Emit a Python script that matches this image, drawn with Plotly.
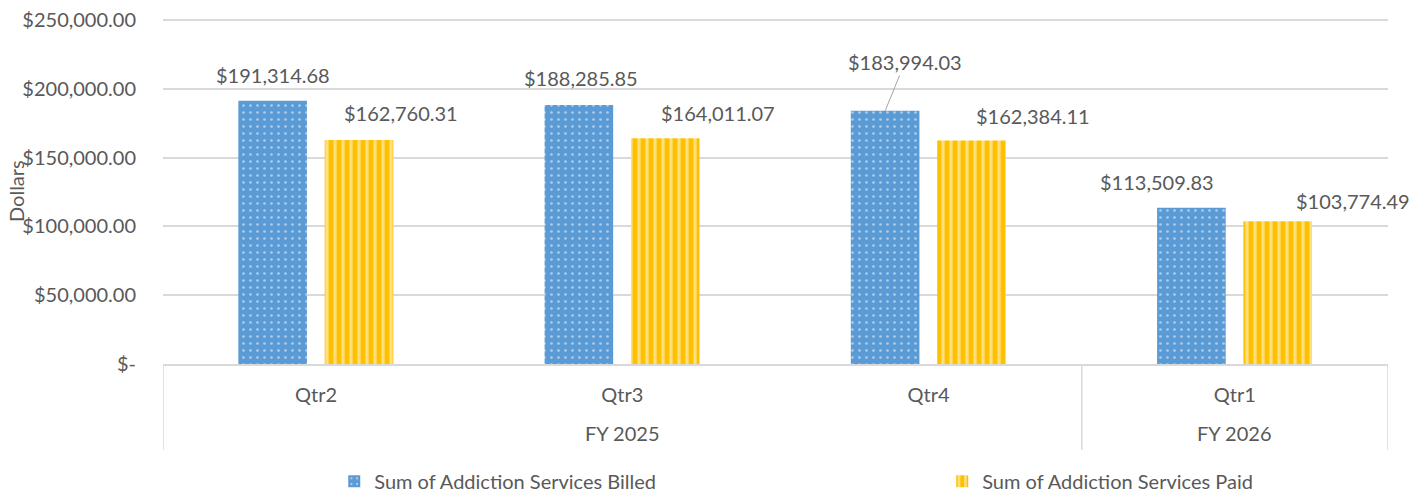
import plotly.graph_objects as go

# Data
fiscal_years = ["FY 2025", "FY 2025", "FY 2025", "FY 2026"]
quarters = ["Qtr2", "Qtr3", "Qtr4", "Qtr1"]
billed = [191314.68, 188285.85, 183994.03, 113509.83]
paid = [162760.31, 164011.07, 162384.11, 103774.49]
y_ticks = [0, 50000, 100000, 150000, 200000, 250000]

BLUE = "#5B9BD5"
GOLD = "#FFC000"
TEXT = "#595959"
GRID = "#D9D9D9"
FONT = "Lato, 'Open Sans', sans-serif"
FS = 20

# bar geometry in category units
BAR_W = 0.224
BLUE_OFF = -0.254
GOLD_OFF = 0.028

# label offsets (px) from the top centre of each bar
billed_shift = [(0, 26), (2, 27), None, (-34, 26)]
paid_shift = [(42, 27), (53, 25), (61, 25), (75, 20)]


def money(v):
    return "$-" if v == 0 else "${:,.2f}".format(v)


fig = go.Figure()
fig.add_trace(go.Bar(
    x=quarters, y=billed,
    name="Sum of Addiction Services Billed", legend="legend",
    width=BAR_W, offset=BLUE_OFF,
    marker=dict(color=BLUE, line=dict(width=0),
                pattern=dict(shape=".", fgcolor="white", bgcolor=BLUE,
                             size=7, solidity=0.12, fillmode="overlay")),
))
fig.add_trace(go.Bar(
    x=quarters, y=paid,
    name="Sum of Addiction Services Paid", legend="legend2",
    width=BAR_W, offset=GOLD_OFF,
    marker=dict(color=GOLD, line=dict(width=0),
                pattern=dict(shape="|", fgcolor="white", bgcolor=GOLD,
                             size=8, solidity=0.4, fillmode="overlay")),
))

label_font = dict(size=FS, color=TEXT, family=FONT)
annotations = []
for i, v in enumerate(billed):
    xc = i + BLUE_OFF + BAR_W / 2
    if billed_shift[i] is None:
        annotations.append(dict(
            x=xc, y=v, xref="x", yref="y", text=money(v),
            showarrow=True, arrowhead=0, arrowwidth=1, arrowcolor="#A6A6A6",
            ax=20, ay=-49, standoff=0, font=label_font))
    else:
        dx, dy = billed_shift[i]
        annotations.append(dict(
            x=xc, y=v, xref="x", yref="y", text=money(v), showarrow=False,
            xshift=dx, yshift=dy, yanchor="middle", font=label_font))
for i, v in enumerate(paid):
    xc = i + GOLD_OFF + BAR_W / 2
    dx, dy = paid_shift[i]
    annotations.append(dict(
        x=xc, y=v, xref="x", yref="y", text=money(v), showarrow=False,
        xshift=dx, yshift=dy, yanchor="middle", font=label_font))

# fiscal year group labels and the dividers between groups
shapes = []
groups = []
for i, fy in enumerate(fiscal_years):
    if groups and groups[-1][0] == fy:
        groups[-1][2] = i
    else:
        groups.append([fy, i, i])
for fy, start, end in groups:
    annotations.append(dict(
        x=(start + end) / 2, y=-0.199, xref="x", yref="paper", text=fy,
        showarrow=False, yanchor="middle", font=label_font))
    shapes.append(dict(type="line", xref="x", yref="paper",
                       x0=start - 0.5, x1=start - 0.5, y0=0, y1=-0.248,
                       line=dict(color=GRID, width=1.5)))
shapes.append(dict(type="line", xref="x", yref="paper",
                   x0=len(quarters) - 0.5, x1=len(quarters) - 0.5, y0=0, y1=-0.248,
                   line=dict(color=GRID, width=1.5)))

annotations.append(dict(
    x=-0.12, y=0.5, xref="paper", yref="paper", text="Dollars",
    textangle=-90, showarrow=False, xanchor="center", yanchor="middle",
    font=label_font))

# container-anchored legends so they do not push the bottom margin
legend_style = dict(orientation="h", yref="container", y=0.028, yanchor="middle",
                    font=dict(size=FS, color=TEXT, family=FONT),
                    bgcolor="rgba(0,0,0,0)")
fig.update_layout(
    width=1421, height=495,
    margin=dict(l=163, r=33, t=18, b=131),
    paper_bgcolor="white", plot_bgcolor="white",
    font=dict(family=FONT, size=FS, color=TEXT),
    showlegend=True,
    legend=dict(x=0.1398, xanchor="left", **legend_style),
    legend2=dict(x=0.6361, xanchor="left", **legend_style),
    annotations=annotations,
    shapes=shapes,
)
# a little headroom so the top gridline is not clipped at the edge
fig.update_yaxes(
    range=[0, 251500], tickvals=y_ticks, ticktext=[money(t) for t in y_ticks],
    showgrid=True, gridcolor=GRID, gridwidth=1.5, zeroline=False,
    showline=False, ticks="", ticklabelstandoff=26, automargin=False,
    tickfont=dict(size=FS, color=TEXT),
)
fig.update_xaxes(
    type="category", range=[-0.5, len(quarters) - 0.5],
    showline=True, linecolor=GRID, linewidth=1.5, showgrid=False,
    ticks="", ticklabelstandoff=12, automargin=False,
    tickfont=dict(size=FS, color=TEXT),
)

# drop the default page margin so the figure fills the window exactly
fig.write_html("out.html", config={"displayModeBar": False},
               post_script="document.body.style.margin='0';"
                           "document.body.style.overflow='hidden';")
